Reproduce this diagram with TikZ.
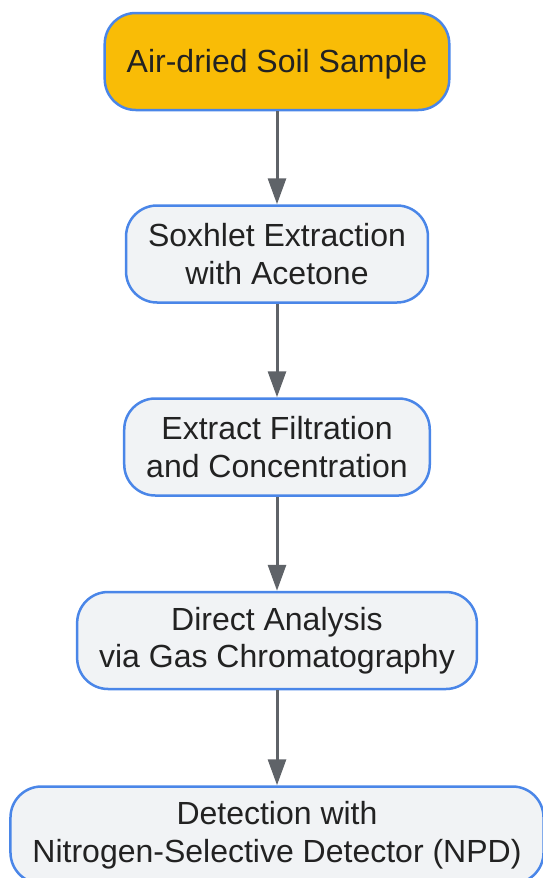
\documentclass[tikz,border=0pt]{standalone}
\usepackage{fontspec}
\setmainfont{Liberation Sans}
\usetikzlibrary{arrows.meta}
\definecolor{edgeblue}{HTML}{4A86E8}
\definecolor{boxgray}{HTML}{F1F3F5}
\definecolor{soilyellow}{HTML}{F9BC06}
\definecolor{arrowgray}{HTML}{5F6368}
\definecolor{textdark}{HTML}{222222}

\begin{document}
\begin{tikzpicture}[x=1pt,y=-1pt,
    stepbox/.style={draw=edgeblue, line width=2.5pt, fill=boxgray, rounded corners=31pt,
        minimum height=97pt, inner xsep=22pt, align=center, text=textdark,
        font=\fontsize{32}{37.5}\selectfont},
    flow/.style={draw=arrowgray, line width=3pt, -{Triangle[length=26pt,width=18pt,fill=arrowgray]}}]
    \useasboundingbox (0,0) rectangle (543,878);
    % steps
    \node[stepbox, fill=soilyellow, text depth=2pt] (soil) at (277,61.5) {Air-dried Soil Sample};
    \node[stepbox] (soxhlet) at (277,254) {Soxhlet Extraction\\with Acetone};
    \node[stepbox] (filter) at (277,447) {Extract Filtration\\and Concentration};
    \node[stepbox] (gc) at (277,640.5) {Direct Analysis\\via Gas Chromatography};
    \node[stepbox] (npd) at (277,835) {Detection with\\Nitrogen-Selective Detector (NPD)};
    % arrows
    \draw[flow] (soil) -- (soxhlet);
    \draw[flow] (soxhlet) -- (filter);
    \draw[flow] (filter) -- (gc);
    \draw[flow] (gc) -- (npd);
\end{tikzpicture}
\end{document}
